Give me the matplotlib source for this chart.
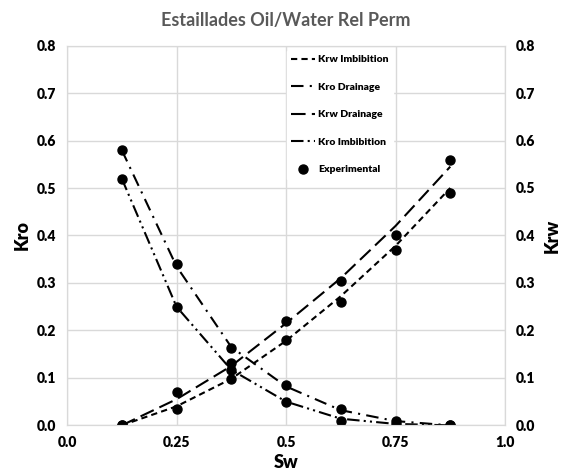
import matplotlib.pyplot as plt

plt.rcParams['font.family'] = ['Lato', 'DejaVu Sans']
plt.rcParams['font.weight'] = 'heavy'

# Water saturation points
sw = [0.125, 0.25, 0.375, 0.5, 0.625, 0.75, 0.875]

# Fitted curves
krw_imb = [0.0, 0.04, 0.098, 0.178, 0.272, 0.378, 0.50]
kro_dra = [0.58, 0.335, 0.165, 0.082, 0.032, 0.009, 0.0]
krw_dra = [0.0, 0.055, 0.125, 0.215, 0.31, 0.42, 0.545]
kro_imb = [0.52, 0.25, 0.117, 0.05, 0.014, 0.003, 0.0]

# Experimental points
exp_sw = sw * 4
exp_k = ([0.58, 0.34, 0.163, 0.085, 0.035, 0.01, 0.0] +
         [0.52, 0.25, 0.117, 0.05, 0.01, 0.003, 0.0] +
         [0.0, 0.07, 0.132, 0.22, 0.305, 0.40, 0.56] +
         [0.0, 0.035, 0.098, 0.18, 0.26, 0.37, 0.49])

fig = plt.figure(figsize=(5.63, 4.70), dpi=100)
ax = fig.add_axes([0.119, 0.095, 0.778, 0.808])
ax2 = ax.twinx()

grid_c = '#d9d9d9'
for a in (ax, ax2):
    a.set_xlim(0, 1)
    a.set_ylim(0, 0.8)
    for s in a.spines.values():
        s.set_color(grid_c)
    a.tick_params(length=0, labelsize=10, pad=8)

ax.set_xticks([0, 0.25, 0.5, 0.75, 1.0])
ax.set_xticklabels(['0.0', '0.25', '0.5', '0.75', '1.0'])
yt = [i / 10 for i in range(9)]
ax.set_yticks(yt)
ax.set_yticklabels([f'{v:.1f}' for v in yt])
ax2.set_yticks(yt)
ax2.set_yticklabels([f'{v:.1f}' for v in yt])
ax.grid(True, color=grid_c, lw=1)
ax.set_axisbelow(True)

lw = 1.5
l1, = ax2.plot(sw, krw_imb, color='black', lw=lw, ls=(0, (3, 2)), label='Krw Imbibition')
l2, = ax.plot(sw, kro_dra, color='black', lw=lw, ls=(0, (6, 3, 1, 3)), label='Kro Drainage')
l3, = ax2.plot(sw, krw_dra, color='black', lw=lw, ls=(0, (7, 3)), label='Krw Drainage')
l4, = ax.plot(sw, kro_imb, color='black', lw=lw, ls=(0, (6, 2, 1, 2, 1, 2)), label='Kro Imbibition')
l5, = ax2.plot(exp_sw, exp_k, 'o', color='black', ms=6.5, label='Experimental')

leg = ax2.legend(handles=[l1, l2, l3, l4, l5], loc='upper left',
                 bbox_to_anchor=(0.49, 1.0), frameon=True, fancybox=False,
                 edgecolor='white', framealpha=1, fontsize=7.5,
                 labelspacing=1.75, handlelength=2.3, handletextpad=0.3,
                 borderpad=0.4)

ax.set_xlabel('Sw', fontsize=13, fontweight='heavy', labelpad=3)
ax.set_ylabel('Kro', fontsize=13, fontweight='heavy', labelpad=4)
ax2.set_ylabel('Krw', fontsize=13, fontweight='heavy', labelpad=6)
ax.set_title('Estaillades Oil/Water Rel Perm', fontsize=13, fontweight='bold',
             color='#595959', pad=14)

fig.savefig('out.png', dpi=100)
